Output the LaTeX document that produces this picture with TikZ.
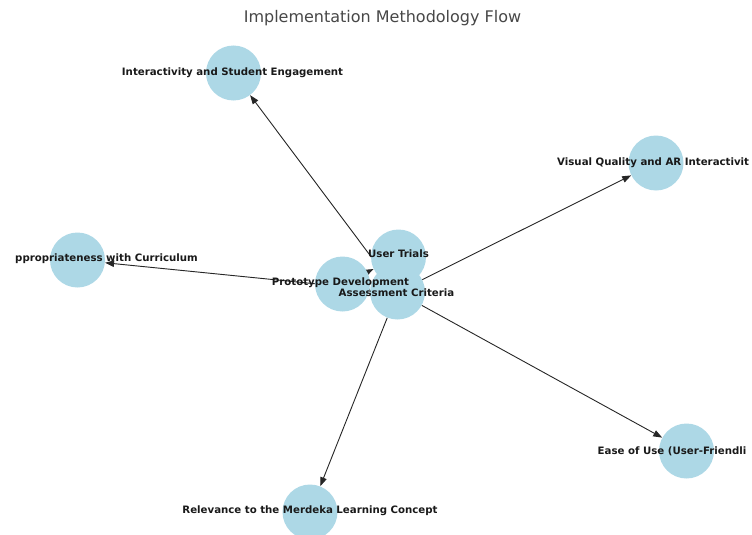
\documentclass[tikz,border=0pt]{standalone}
\usepackage{fontspec}
\setmainfont{DejaVu Sans}
\usetikzlibrary{arrows.meta}
\pgfdeclarelayer{background}
\pgfsetlayers{background,main}
\definecolor{nodeblue}{HTML}{ADD8E6}
\tikzset{
  vertex/.style={circle, fill=nodeblue, minimum size=55pt, inner sep=0pt},
  lbl/.style={font=\fontsize{10.2}{12}\selectfont\bfseries, inner sep=0pt, text=black!90},
  ttl/.style={font=\fontsize{16}{19}\selectfont, inner sep=0pt, text=black!72},
  edge/.style={-{Triangle[length=9pt,width=6.5pt]}, line width=0.9pt, draw=black!85},
}
\begin{document}
\begin{tikzpicture}[x=1pt,y=-1pt]
\useasboundingbox (0,0) rectangle (752,535);
\clip (0,0) rectangle (752,535);
\node[ttl] (title) at (382.5,18) {Implementation Methodology Flow};
% circles
\node[vertex] (ie) at (233.5,73) {};
\node[vertex] (vq) at (656,163) {};
\node[vertex] (ap) at (77.5,260) {};
\node[vertex] (pd) at (342.5,284) {};
\node[vertex] (ut) at (398.5,257) {};
\node[vertex] (ac) at (397.5,292) {};
\node[vertex] (eu) at (686.5,451) {};
\node[vertex] (rl) at (310,512) {};
% labels
\node[lbl] (tie) at (232.5,73) {Interactivity and Student Engagement};
\node[lbl, anchor=west] (tvq) at (557,163) {Visual Quality and AR Interactivit};
\node[lbl, anchor=west] (tap) at (15,259) {ppropriateness with Curriculum};
\node[lbl] (tut) at (398.5,254) {User Trials};
\node[lbl] (tpd) at (340.5,283) {Prototype Development};
\node[lbl] (tac) at (396.5,293) {Assessment Criteria};
\node[lbl, anchor=west] (teu) at (597.5,451) {Ease of Use (User-Friendli};
\node[lbl] (trl) at (310,511) {Relevance to the Merdeka Learning Concept};
% edges
\begin{pgfonlayer}{background}
\draw[edge] (ac) -- (ie);
\draw[edge] (ac) -- (vq);
\draw[edge] (ac) -- (ap);
\draw[edge] (ac) -- (eu);
\draw[edge] (ac) -- (rl);
\draw[edge] (pd) -- (ut);
\end{pgfonlayer}
\end{tikzpicture}
\end{document}
